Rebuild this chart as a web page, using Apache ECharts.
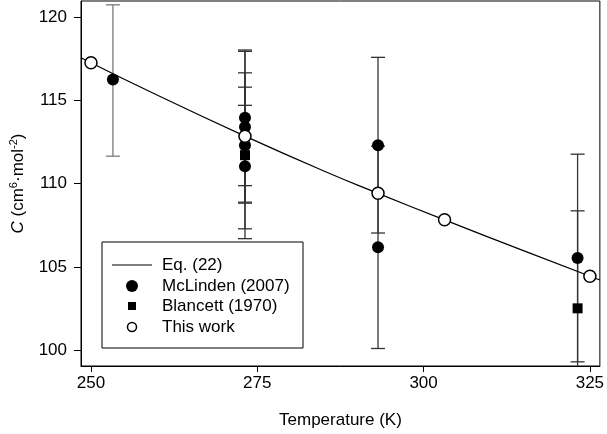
<!DOCTYPE html>
<html>
<head>
<meta charset="utf-8">
<script src="https://cdn.jsdelivr.net/npm/echarts@6/dist/echarts.min.js"></script>
<style>
  html, body { margin: 0; padding: 0; background: #fff; }
  #chart { width: 607px; height: 434px; }
</style>
</head>
<body>
<div id="chart"></div>
<script>
// values
const xTicks = [250, 275, 300, 325];
const yTicks = [100, 105, 110, 115, 120];

// Eq. (22) curve
const eqTemp = [248.5, 260, 273.15, 285, 293.15, 303.15, 315, 326.5];
const eqC = [117.55, 115.29, 112.84, 110.75, 109.41, 107.82, 105.97, 104.21];

// McLinden (2007)
const mcTemp = [253.3, 273.15, 273.15, 273.15, 273.15, 293.15, 293.15, 323.15];
const mcC = [116.24, 113.95, 113.39, 112.30, 111.04, 112.30, 106.17, 105.53];
const mcLow = [111.64, 109.87, 108.88, 108.82, 107.28, 107.03, 100.10, 99.30];
const mcHigh = [120.72, 118.01, 117.93, 115.78, 114.69, 117.57, 112.24, 111.76];

// Blancett (1970)
const blTemp = [273.15, 323.15];
const blC = [111.70, 102.51];
const blLow = [106.69, 96.66];
const blHigh = [116.64, 108.36];

// This work
const twTemp = [250, 273.15, 293.15, 303.15, 325];
const twC = [117.25, 112.84, 109.41, 107.82, 104.44];

const legendNames = ['Eq. (22)', 'McLinden (2007)', 'Blancett (1970)', 'This work'];

const pairs = (xs, ys) => xs.map((x, i) => [x, ys[i]]);

let bars = [];
mcTemp.forEach((t, i) => bars.push([t, mcLow[i], mcHigh[i], i === 0 ? '#7a7a7a' : '#333']));
blTemp.forEach((t, i) => bars.push([t, blLow[i], blHigh[i], '#333']));

const font = 'Liberation Sans, Arial, sans-serif';

// legend box drawn by hand so the marker sizes match
const lgX = 102, lgY = 242, rowY = [265, 286, 306, 327];
let legendItems = [
  { type: 'rect', shape: { x: lgX, y: lgY, width: 201, height: 106 }, style: { fill: '#fff', stroke: '#000', lineWidth: 1 } },
  { type: 'line', shape: { x1: 112, y1: rowY[0], x2: 152, y2: rowY[0] }, style: { stroke: '#000', lineWidth: 1.2 } },
  { type: 'circle', shape: { cx: 132, cy: rowY[1], r: 6 }, style: { fill: '#000' } },
  { type: 'rect', shape: { x: 128, y: rowY[2] - 4, width: 8, height: 8 }, style: { fill: '#000' } },
  { type: 'circle', shape: { cx: 132, cy: rowY[3], r: 4.5 }, style: { fill: '#fff', stroke: '#000', lineWidth: 1.5 } }
];
legendNames.forEach((n, i) => legendItems.push({
  type: 'text', x: 162, y: rowY[i],
  style: { text: n, fontFamily: font, fontSize: 17, fill: '#000', verticalAlign: 'middle' }
}));

let chart = echarts.init(document.getElementById('chart'));
chart.setOption({
  animation: false,
  backgroundColor: '#fff',
  grid: {
    left: 77, right: 4, top: 1, bottom: 67,
    show: true, borderColor: '#000', borderWidth: 1
  },
  xAxis: {
    type: 'value', min: 248.5, max: 326.5,
    name: 'Temperature (K)', nameLocation: 'middle', nameGap: 46,
    nameTextStyle: { fontFamily: font, fontSize: 17, color: '#000' },
    axisLine: { lineStyle: { color: '#000', width: 1 } },
    axisTick: { show: true, length: 6, customValues: xTicks, lineStyle: { color: '#000' } },
    axisLabel: { customValues: xTicks, margin: 9, fontFamily: font, fontSize: 17, color: '#000' },
    splitLine: { show: false }
  },
  yAxis: {
    type: 'value', min: 99.05, max: 120.95,
    name: '{i|C} (cm{sup|6}·mol{sup|-2})', nameLocation: 'middle', nameGap: 53,
    nameTextStyle: {
      fontFamily: font, fontSize: 17, color: '#000',
      rich: {
        i: { fontFamily: font, fontSize: 17, fontStyle: 'italic', color: '#000' },
        sup: { fontFamily: font, fontSize: 11, color: '#000', padding: [0, 0, 9, 0] }
      }
    },
    axisLine: { show: true, lineStyle: { color: '#000', width: 1 } },
    axisTick: { show: true, length: 7, customValues: yTicks, lineStyle: { color: '#000' } },
    axisLabel: { customValues: yTicks, margin: 14, fontFamily: font, fontSize: 17, color: '#000' },
    splitLine: { show: false }
  },
  graphic: [{ type: 'group', z: 100, children: legendItems }],
  series: [
    {
      name: 'Eq. (22)', type: 'line', smooth: true, symbol: 'none',
      data: pairs(eqTemp, eqC),
      lineStyle: { color: '#000', width: 1.2 },
      z: 2
    },
    {
      name: 'errors', type: 'custom', clip: true, z: 1,
      data: bars,
      renderItem: function (params, api) {
        const top = api.coord([api.value(0), api.value(2)]);
        const bot = api.coord([api.value(0), api.value(1)]);
        const c = bars[params.dataIndex][3];
        const st = { stroke: c, lineWidth: 1.3 };
        const w = 7;
        return {
          type: 'group',
          children: [
            { type: 'line', shape: { x1: top[0], y1: top[1], x2: bot[0], y2: bot[1] }, style: st },
            { type: 'line', shape: { x1: top[0] - w, y1: top[1], x2: top[0] + w, y2: top[1] }, style: st },
            { type: 'line', shape: { x1: bot[0] - w, y1: bot[1], x2: bot[0] + w, y2: bot[1] }, style: st }
          ]
        };
      }
    },
    {
      name: 'McLinden (2007)', type: 'scatter', symbol: 'circle', symbolSize: 12,
      data: pairs(mcTemp, mcC),
      itemStyle: { color: '#000', opacity: 1 },
      z: 3
    },
    {
      name: 'Blancett (1970)', type: 'scatter', symbol: 'rect', symbolSize: 10,
      data: pairs(blTemp, blC),
      itemStyle: { color: '#000', opacity: 1 },
      z: 3
    },
    {
      name: 'This work', type: 'scatter', symbol: 'circle', symbolSize: 12,
      data: pairs(twTemp, twC),
      itemStyle: { color: '#fff', borderColor: '#000', borderWidth: 1.5, opacity: 1 },
      z: 4
    }
  ]
});
</script>
</body>
</html>
